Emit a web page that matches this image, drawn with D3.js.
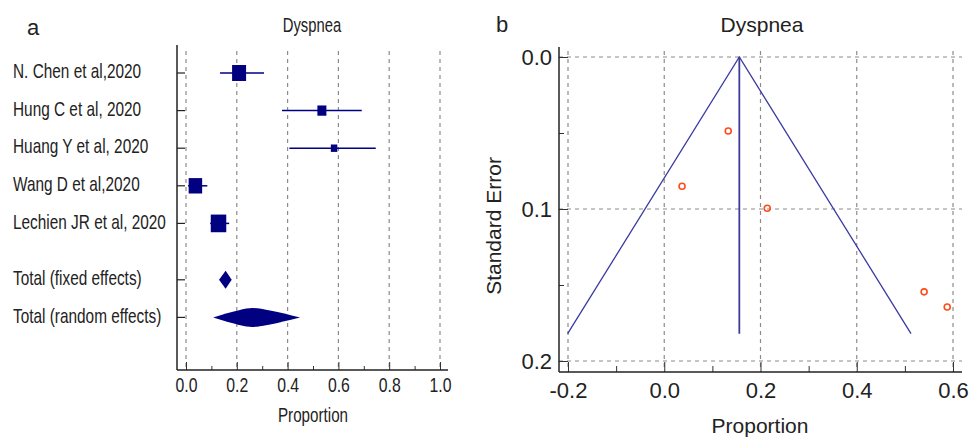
<!DOCTYPE html>
<html>
<head>
<meta charset="utf-8">
<script src="https://cdn.jsdelivr.net/npm/d3@7"></script>
<style>
  body { margin: 0; background: #fff; }
  svg { display: block; }
  text { font-family: "Liberation Sans", Arial, sans-serif; }
</style>
</head>
<body>
<svg id="chart" width="972" height="437"></svg>
<script>
// forest plot (a)
const studies = ["N. Chen et al,2020", "Hung C et al, 2020", "Huang Y et al, 2020", "Wang D et al,2020", "Lechien JR et al, 2020"];
const estimate = [0.209, 0.535, 0.583, 0.037, 0.128];
const lower = [0.134, 0.378, 0.407, 0.008, 0.095];
const upper = [0.307, 0.692, 0.747, 0.084, 0.170];
const weight = [14, 9, 6.5, 13.5, 15.5];
const totals = ["Total (fixed effects)", "Total (random effects)"];
const totalEst = [0.156, 0.260];
const totalLow = [0.130, 0.107];
const totalHigh = [0.180, 0.449];
const forestTicks = [0, 0.2, 0.4, 0.6, 0.8, 1.0];

// funnel plot (b)
const funnelProp = [0.133, 0.037, 0.214, 0.540, 0.588];
const funnelSE = [0.0487, 0.085, 0.0995, 0.1545, 0.1645];
const pooled = 0.156;
const maxSE = 0.182;
const funnelXTicks = [-0.2, 0, 0.2, 0.4, 0.6];
const funnelYTicks = [0, 0.1, 0.2];

const svg = d3.select("#chart");
const navy = "#000080";
const gridColor = "#8c8c8c";
const squeeze = 0.76; // panel a uses a condensed face

// ---------- panel a ----------
const xa = d3.scaleLinear().domain([0, 1]).range([186, 440]);
const rowY = d3.scaleLinear().domain([0, 1]).range([73, 110.6]);
const a = svg.append("g");
const aTop = 45, aBottom = 370, aLeft = 177, aRight = 448;

a.append("text").attr("x", 27).attr("y", 35)
  .style("font-size", "22px").attr("fill", "#222").text("a");
a.append("text").attr("transform", `translate(312,32) scale(${squeeze},1)`)
  .attr("text-anchor", "middle").style("font-size", "19.5px").attr("fill", "#222").text("Dyspnea");

// grid
a.selectAll(".grid").data(forestTicks).enter().append("line")
  .attr("x1", d => xa(d)).attr("x2", d => xa(d))
  .attr("y1", 51).attr("y2", aBottom)
  .attr("stroke", gridColor).attr("stroke-width", 1.2).attr("stroke-dasharray", "4,4");

// bottom axis
const axA = a.append("g").attr("transform", `translate(0,${aBottom})`)
  .call(d3.axisBottom(xa).tickValues(forestTicks).tickFormat(d3.format(".1f")).tickSize(-8).tickPadding(8));
axA.select(".domain").remove();
axA.selectAll("text").style("font-size", "20px").attr("fill", "#222")
  .attr("transform", "scale(0.79,1)");
axA.selectAll("line").attr("stroke", "#333");
a.append("g").attr("transform", `translate(0,${aBottom})`)
  .call(d3.axisBottom(xa).tickValues(d3.range(0.1, 1, 0.2)).tickFormat("").tickSize(-4))
  .call(g => g.select(".domain").remove())
  .selectAll("line").attr("stroke", "#333");

a.append("line").attr("x1", aLeft).attr("x2", aRight).attr("y1", aBottom).attr("y2", aBottom)
  .attr("stroke", "#222").attr("stroke-width", 1.5);
a.append("line").attr("x1", aLeft).attr("x2", aLeft).attr("y1", aTop).attr("y2", aBottom)
  .attr("stroke", "#222").attr("stroke-width", 1.5);

a.append("text").attr("transform", `translate(313,422) scale(${squeeze},1)`)
  .attr("text-anchor", "middle").style("font-size", "20px").attr("fill", "#222").text("Proportion");

// rows
const rows = studies.map((s, i) => ({ label: s, est: estimate[i], lo: lower[i], hi: upper[i], w: weight[i], y: rowY(i) }));
const totalRows = totals.map((s, i) => ({ label: s, est: totalEst[i], lo: totalLow[i], hi: totalHigh[i], y: rowY(5.5 + i) }));
const allRows = rows.concat(totalRows);

a.selectAll(".rowtick").data(allRows).enter().append("line")
  .attr("x1", aLeft).attr("x2", aLeft + 8).attr("y1", d => d.y).attr("y2", d => d.y)
  .attr("stroke", "#222").attr("stroke-width", 1.2);
a.selectAll(".label").data(allRows).enter().append("text")
  .attr("transform", d => `translate(13,${d.y}) scale(0.75,1)`).attr("dy", "0.25em")
  .style("font-size", "20.5px").attr("fill", "#222").text(d => d.label);

a.selectAll(".ci").data(rows).enter().append("line")
  .attr("x1", d => xa(d.lo)).attr("x2", d => xa(d.hi)).attr("y1", d => d.y).attr("y2", d => d.y)
  .attr("stroke", navy).attr("stroke-width", 1.5);
a.selectAll(".box").data(rows).enter().append("rect")
  .attr("x", d => xa(d.est) - d.w / 2).attr("y", d => d.y - d.w * 0.57)
  .attr("width", d => d.w).attr("height", d => d.w * 1.14).attr("fill", navy);

// pooled estimates: fixed is a plain diamond, random bulges a little
a.selectAll(".diamond").data(totalRows).enter().append("path")
  .attr("d", (d, i) => {
    const h = i === 0 ? 9 : 9.5;
    const bulge = i === 0 ? 0 : 0.22;
    const l = xa(d.lo), c = xa(d.est), r = xa(d.hi);
    const bl = c - (c - l) * bulge, br = c + (r - c) * bulge;
    return `M${l},${d.y}Q${bl},${d.y - h} ${c},${d.y - h}Q${br},${d.y - h} ${r},${d.y}` +
      `Q${br},${d.y + h} ${c},${d.y + h}Q${bl},${d.y + h} ${l},${d.y}Z`;
  })
  .attr("fill", navy);

// ---------- panel b ----------
const xb = d3.scaleLinear().domain([-0.2, 0.6]).range([568, 953]);
const yb = d3.scaleLinear().domain([0, 0.2]).range([57, 361]);
const b = svg.append("g");
const bTop = 47, bBottom = 372, bLeft = 559, bRight = 962;

b.append("text").attr("x", 496).attr("y", 32)
  .style("font-size", "22px").attr("fill", "#222").text("b");
b.append("text").attr("x", 762).attr("y", 32)
  .attr("text-anchor", "middle").style("font-size", "21px").attr("fill", "#222").text("Dyspnea");

b.selectAll(".vgrid").data(funnelXTicks).enter().append("line")
  .attr("x1", d => xb(d)).attr("x2", d => xb(d)).attr("y1", 51).attr("y2", bBottom)
  .attr("stroke", gridColor).attr("stroke-width", 1.2).attr("stroke-dasharray", "4,4");
b.selectAll(".hgrid").data(funnelYTicks).enter().append("line")
  .attr("x1", bLeft).attr("x2", bRight).attr("y1", d => yb(d)).attr("y2", d => yb(d))
  .attr("stroke", gridColor).attr("stroke-width", 1.2).attr("stroke-dasharray", "4,4");

const axBx = b.append("g").attr("transform", `translate(0,${bBottom})`)
  .call(d3.axisBottom(xb).tickValues(funnelXTicks).tickFormat(d3.format(".1f")).tickSize(-10).tickPadding(10));
axBx.select(".domain").remove();
axBx.selectAll("text").style("font-size", "22px").attr("fill", "#222")
  .text(d => d3.format(".1f")(d).replace("−", "-"));
axBx.selectAll("line").attr("stroke", "#333");
b.append("g").attr("transform", `translate(0,${bBottom})`)
  .call(d3.axisBottom(xb).tickValues([-0.1, 0.1, 0.3, 0.5]).tickFormat("").tickSize(-6))
  .call(g => g.select(".domain").remove())
  .selectAll("line").attr("stroke", "#333");

const axBy = b.append("g").attr("transform", `translate(${bLeft},0)`)
  .call(d3.axisLeft(yb).tickValues(funnelYTicks).tickFormat(d3.format(".1f")).tickSize(-9).tickPadding(7));
axBy.select(".domain").remove();
axBy.selectAll("text").style("font-size", "22px").attr("fill", "#222");
axBy.selectAll("line").attr("stroke", "#333");
b.append("g").attr("transform", `translate(${bLeft},0)`)
  .call(d3.axisLeft(yb).tickValues([0.05, 0.15]).tickFormat("").tickSize(-5))
  .call(g => g.select(".domain").remove())
  .selectAll("line").attr("stroke", "#333");

b.append("line").attr("x1", bLeft).attr("x2", bRight).attr("y1", bBottom).attr("y2", bBottom)
  .attr("stroke", "#222").attr("stroke-width", 1.5);
b.append("line").attr("x1", bLeft).attr("x2", bLeft).attr("y1", bTop).attr("y2", bBottom)
  .attr("stroke", "#222").attr("stroke-width", 1.5);

b.append("text").attr("x", 760).attr("y", 433)
  .attr("text-anchor", "middle").style("font-size", "21px").attr("fill", "#222").text("Proportion");
b.append("text").attr("transform", "translate(501,226) rotate(-90)")
  .attr("text-anchor", "middle").style("font-size", "21px").attr("fill", "#222").text("Standard Error");

// funnel lines
const funnelColor = "#3b3ba0";
const funnelPts = [[pooled - 1.96 * maxSE, maxSE], [pooled, 0], [pooled + 1.96 * maxSE, maxSE]];
b.append("path").datum(funnelPts)
  .attr("d", d3.line().x(d => xb(d[0])).y(d => yb(d[1])))
  .attr("fill", "none").attr("stroke", funnelColor).attr("stroke-width", 1.3);
b.append("line").attr("x1", xb(pooled)).attr("x2", xb(pooled)).attr("y1", yb(0)).attr("y2", yb(maxSE))
  .attr("stroke", funnelColor).attr("stroke-width", 1.8);

b.selectAll(".pt").data(funnelProp).enter().append("circle")
  .attr("cx", d => xb(d)).attr("cy", (d, i) => yb(funnelSE[i])).attr("r", 3)
  .attr("fill", "none").attr("stroke", "#ff4a1a").attr("stroke-width", 1.6);
</script>
</body>
</html>
